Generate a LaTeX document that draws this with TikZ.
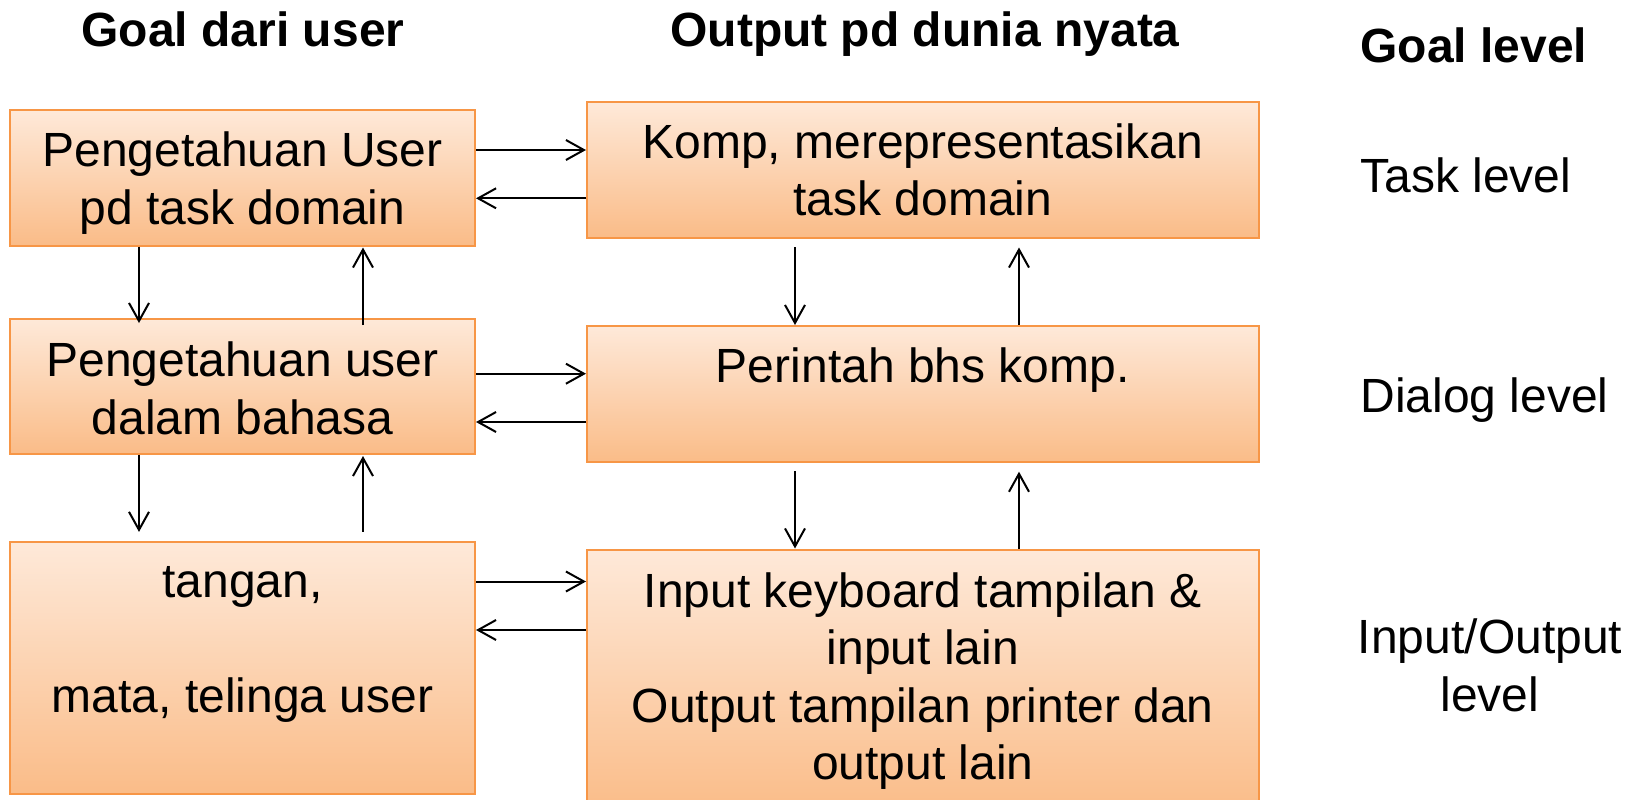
\documentclass[tikz,border=0pt]{standalone}
\usepackage{fontspec}
\setmainfont{Liberation Sans}
\usetikzlibrary{arrows.meta, calc}
\definecolor{oranye}{RGB}{247,150,70}
\definecolor{oranyeatas}{RGB}{254,233,217}
\definecolor{oranyebawah}{RGB}{250,188,136}

\begin{document}
\begin{tikzpicture}[x = 0.5pt, y = -0.5pt, >={Straight Barb[length=9pt,width=10pt]},
		kotak/.style = {draw = oranye, line width = 1pt, top color = oranyeatas, bottom color = oranyebawah, align = center, inner sep = 0pt, font = \fontsize{24}{28.8}\selectfont},
		kiri/.style = {kotak, minimum width = 232.5pt},
		kanan/.style = {kotak, minimum width = 335.75pt},
		judul/.style = {inner sep = 0pt, anchor = base, font = \fontsize{24}{28.8}\selectfont\bfseries},
		level/.style = {inner sep = 0pt, anchor = base west, font = \fontsize{24}{28.8}\selectfont},
		panah/.style = {->, line width = 1pt}]
		\clip (0,0) rectangle (1635,799);
		\draw (242.5,177.75) node[kiri, minimum height = 67.75pt] (L1) {\rule{0pt}{23pt}Pengetahuan User\\pd task domain}
		(242.5,386) node[kiri, minimum height = 67.5pt] (L2) {\rule{0pt}{20pt}Pengetahuan user\\dalam bahasa}
		(242.5,668.4) node[kiri, minimum height = 126pt] (L3) {tangan,\\[28.8pt]mata, telinga user\\ \mbox{}}
		(922.75,169.75) node[kanan, minimum height = 67.75pt] (R1) {Komp, merepresentasikan\\task domain}
		(922.75,393.85) node[kanan, minimum height = 67.85pt] (R2) {Perintah bhs komp.\\ \mbox{}}
		(922.75,681) node[kanan, minimum height = 131.5pt] (R3) {Input keyboard tampilan \&\\input lain\\Output tampilan printer dan\\output lain};
		
		\draw (243,46.7) node[judul] (goal) {Goal dari user}
		(925,46.7) node[judul] (output) {Output pd dunia nyata}
		(1360,62.3) node[judul, anchor = base west] (lvgoal) {Goal level}
		(1360,192.7) node[level] (lvtask) {Task level}
		(1360,412.7) node[level] (lvdialog) {Dialog level}
		(1490,665.5) node[level, anchor = center, align = center] (lvio) {Input/Output\\level};
		
		\draw[panah] ($(L1.east)+(0,-27.75)$) -- ($(R1.west)+(0,-19.75)$);
		\draw[panah] ($(R1.west)+(0,28.55)$) -- ($(L1.east)+(0,20.55)$);
		\draw[panah] ($(L2.east)+(0,-12.3)$) -- ($(R2.west)+(0,-20.15)$);
		\draw[panah] ($(R2.west)+(0,28.15)$) -- ($(L2.east)+(0,36)$);
		\draw[panah] ($(L3.east)+(0,-86.9)$) -- ($(R3.west)+(0,-99.5)$);
		\draw[panah] ($(R3.west)+(0,-51)$) -- ($(L3.east)+(0,-38.4)$);
		\draw[panah] ($(L1.south)+(-103.5,0)$) -- ($(L2.north)+(-103.5,5.5)$);
		\draw[panah] ($(L2.north)+(120.5,7.5)$) -- ($(L1.south)+(120.5,1)$);
		\draw[panah] ($(L2.south)+(-103.5,0)$) -- ($(L3.north)+(-103.5,-9.5)$);
		\draw[panah] ($(L3.north)+(120.5,-9.5)$) -- ($(L2.south)+(120.5,1.5)$);
		\draw[panah] ($(R1.south)+(-127.75,8.5)$) -- ($(R2.north)+(-127.75,0)$);
		\draw[panah] ($(R2.north)+(96.25,0)$) -- ($(R1.south)+(96.25,9)$);
		\draw[panah] ($(R2.south)+(-127.75,8.5)$) -- ($(R3.north)+(-127.75,0)$);
		\draw[panah] ($(R3.north)+(96.25,0)$) -- ($(R2.south)+(96.25,9)$);
	\end{tikzpicture}
\end{document}
